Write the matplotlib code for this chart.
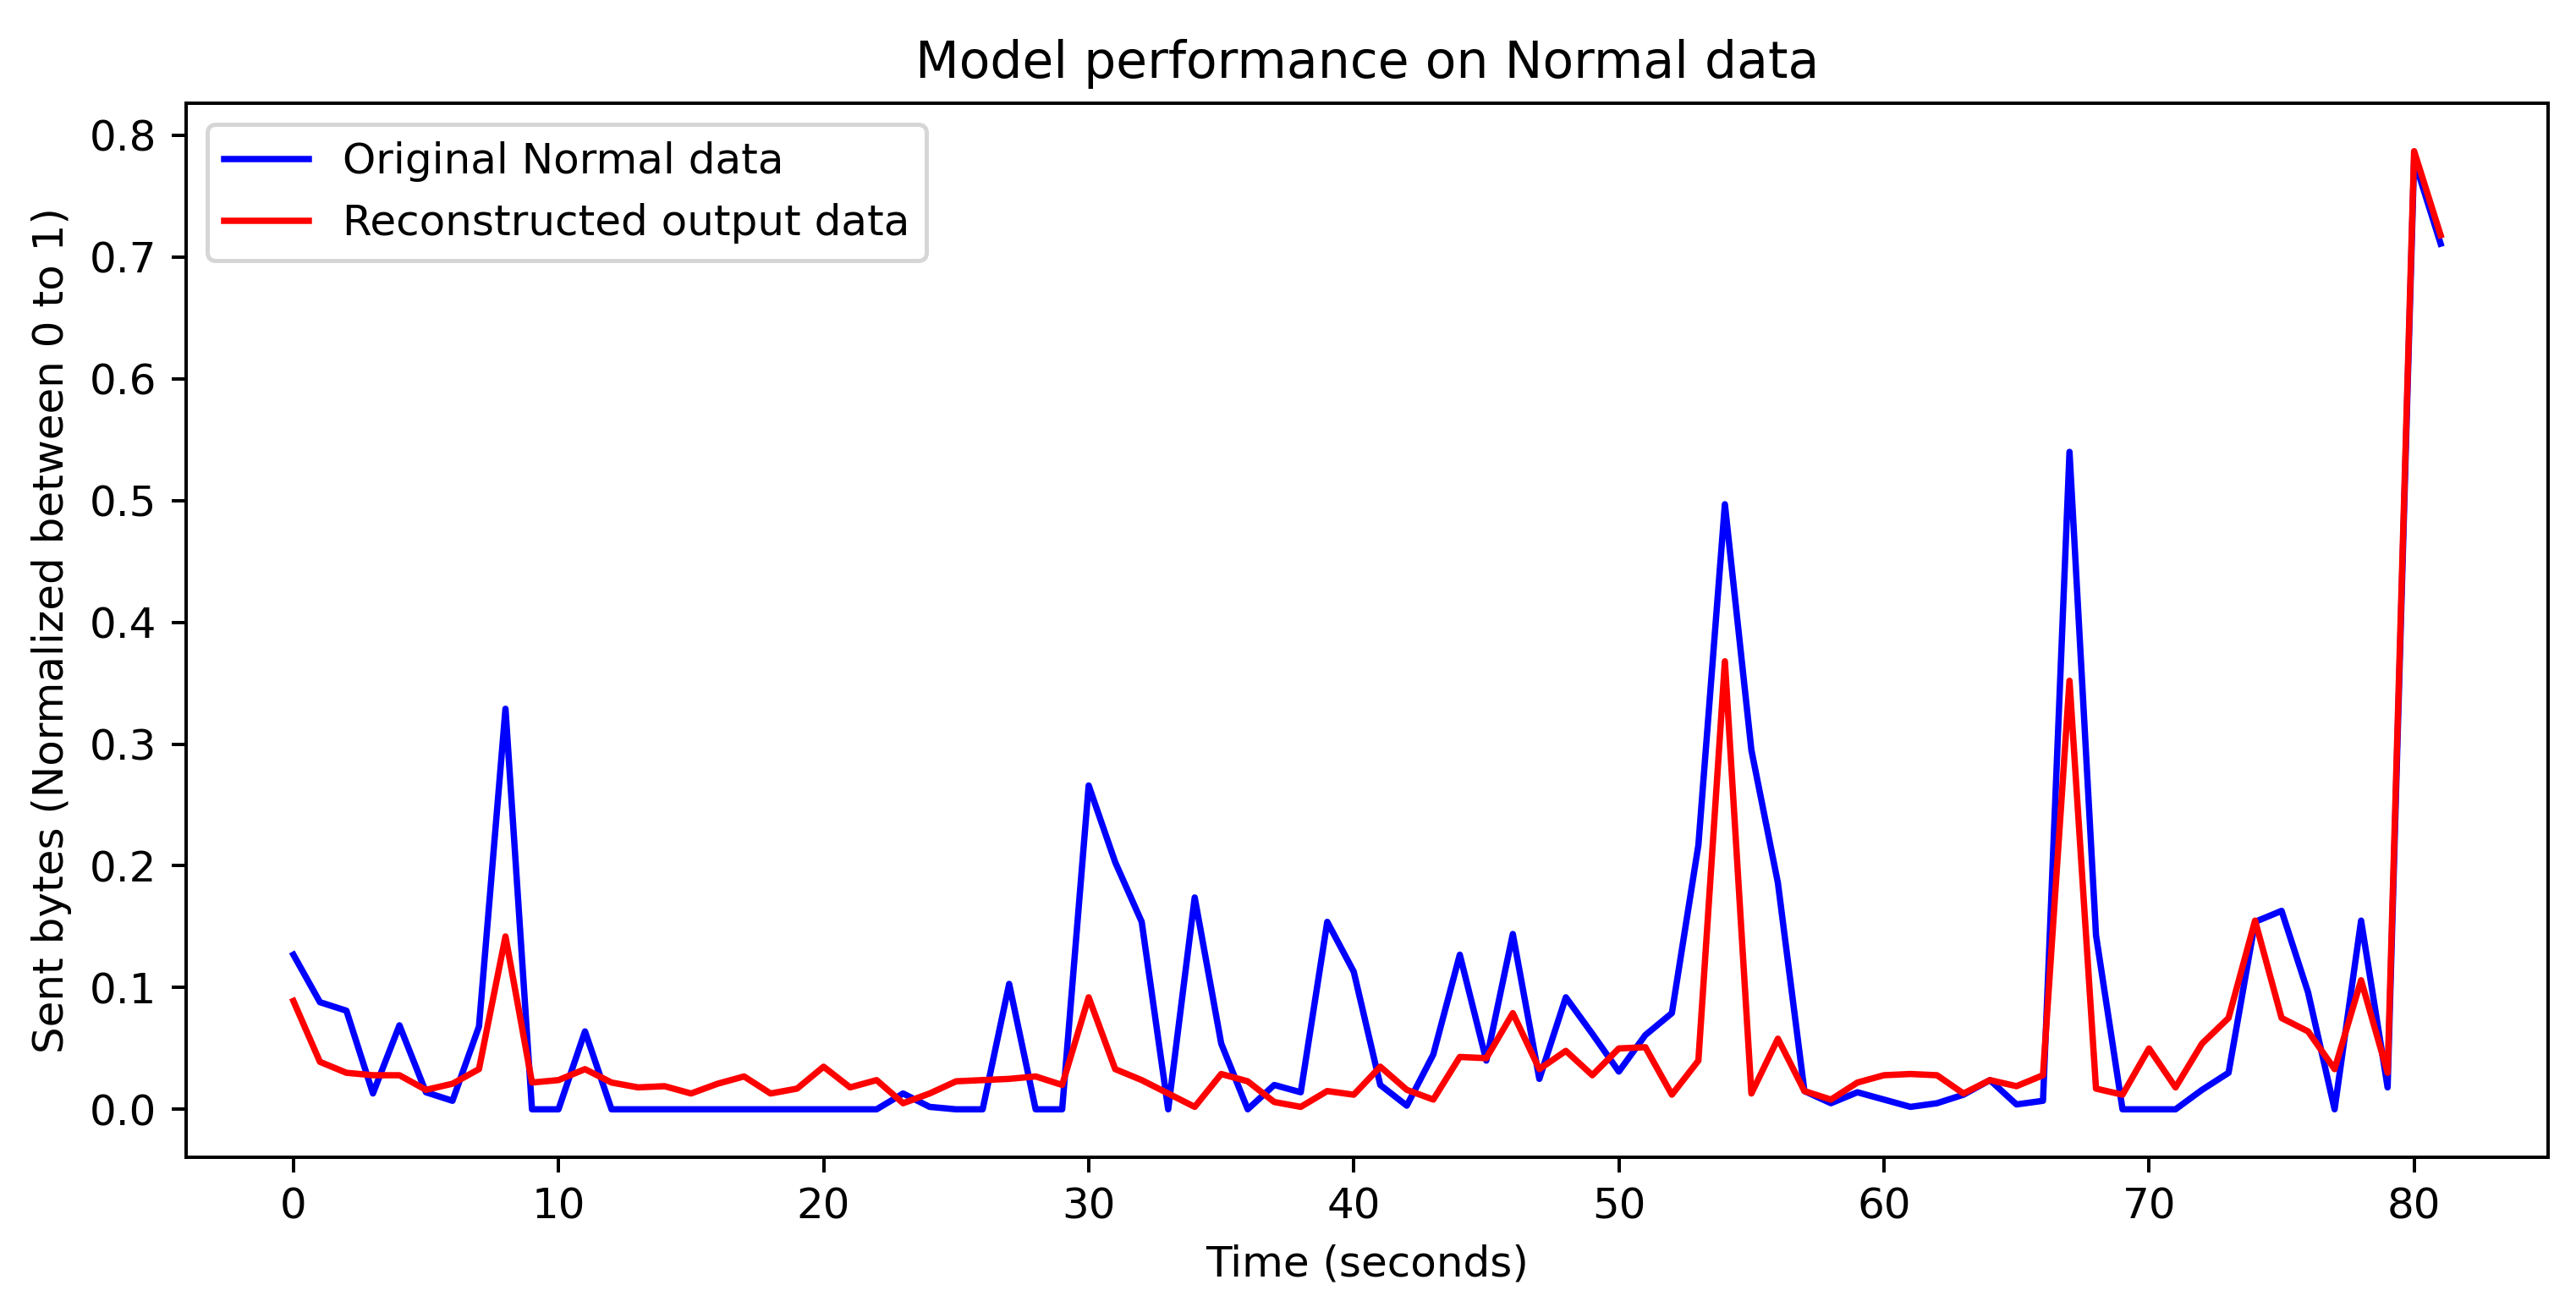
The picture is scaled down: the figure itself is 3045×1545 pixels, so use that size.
import numpy as np
import matplotlib
matplotlib.use("Agg")
import matplotlib.pyplot as plt

# values, one per second (0..81)
original = [0.127, 0.088, 0.081, 0.013, 0.069, 0.014, 0.007, 0.068, 0.329, 0.0,
            0.0, 0.064, 0.0, 0.0, 0.0, 0.0, 0.0, 0.0, 0.0, 0.0,
            0.0, 0.0, 0.0, 0.013, 0.002, 0.0, 0.0, 0.103, 0.0, 0.0,
            0.266, 0.203, 0.154, 0.0, 0.174, 0.054, 0.0, 0.020, 0.014, 0.154,
            0.113, 0.020, 0.003, 0.045, 0.127, 0.040, 0.144, 0.025, 0.092, 0.062,
            0.031, 0.061, 0.079, 0.217, 0.497, 0.295, 0.186, 0.015, 0.005, 0.014,
            0.008, 0.002, 0.005, 0.012, 0.024, 0.004, 0.007, 0.540, 0.143, 0.0,
            0.0, 0.0, 0.016, 0.030, 0.154, 0.163, 0.096, 0.0, 0.155, 0.018,
            0.780, 0.711]

reconstructed = [0.089, 0.039, 0.030, 0.028, 0.028, 0.016, 0.021, 0.033, 0.142, 0.022,
                 0.024, 0.033, 0.022, 0.018, 0.019, 0.013, 0.021, 0.027, 0.013, 0.017,
                 0.035, 0.018, 0.024, 0.005, 0.013, 0.023, 0.024, 0.025, 0.027, 0.020,
                 0.092, 0.033, 0.024, 0.013, 0.002, 0.029, 0.023, 0.006, 0.002, 0.015,
                 0.012, 0.035, 0.016, 0.008, 0.043, 0.042, 0.079, 0.033, 0.048, 0.028,
                 0.050, 0.051, 0.012, 0.040, 0.368, 0.013, 0.058, 0.015, 0.008, 0.022,
                 0.028, 0.029, 0.028, 0.013, 0.024, 0.019, 0.028, 0.352, 0.017, 0.012,
                 0.050, 0.018, 0.054, 0.075, 0.155, 0.075, 0.064, 0.033, 0.106, 0.030,
                 0.787, 0.718]

t = np.arange(len(original))

DPI = 360
fig = plt.figure(figsize=(3046 / DPI, 1545 / DPI), dpi=DPI)
fig.subplots_adjust(left=0.0722, right=0.9888, bottom=0.1146, top=0.921)

plt.plot(t, original, color='blue', label='Original Normal data')
plt.plot(t, reconstructed, color='red', label='Reconstructed output data')
plt.title('Model performance on Normal data')
plt.xlabel('Time (seconds)')
plt.ylabel('Sent bytes (Normalized between 0 to 1)')
plt.legend(loc='upper left')

plt.savefig('out.png', dpi=DPI)
